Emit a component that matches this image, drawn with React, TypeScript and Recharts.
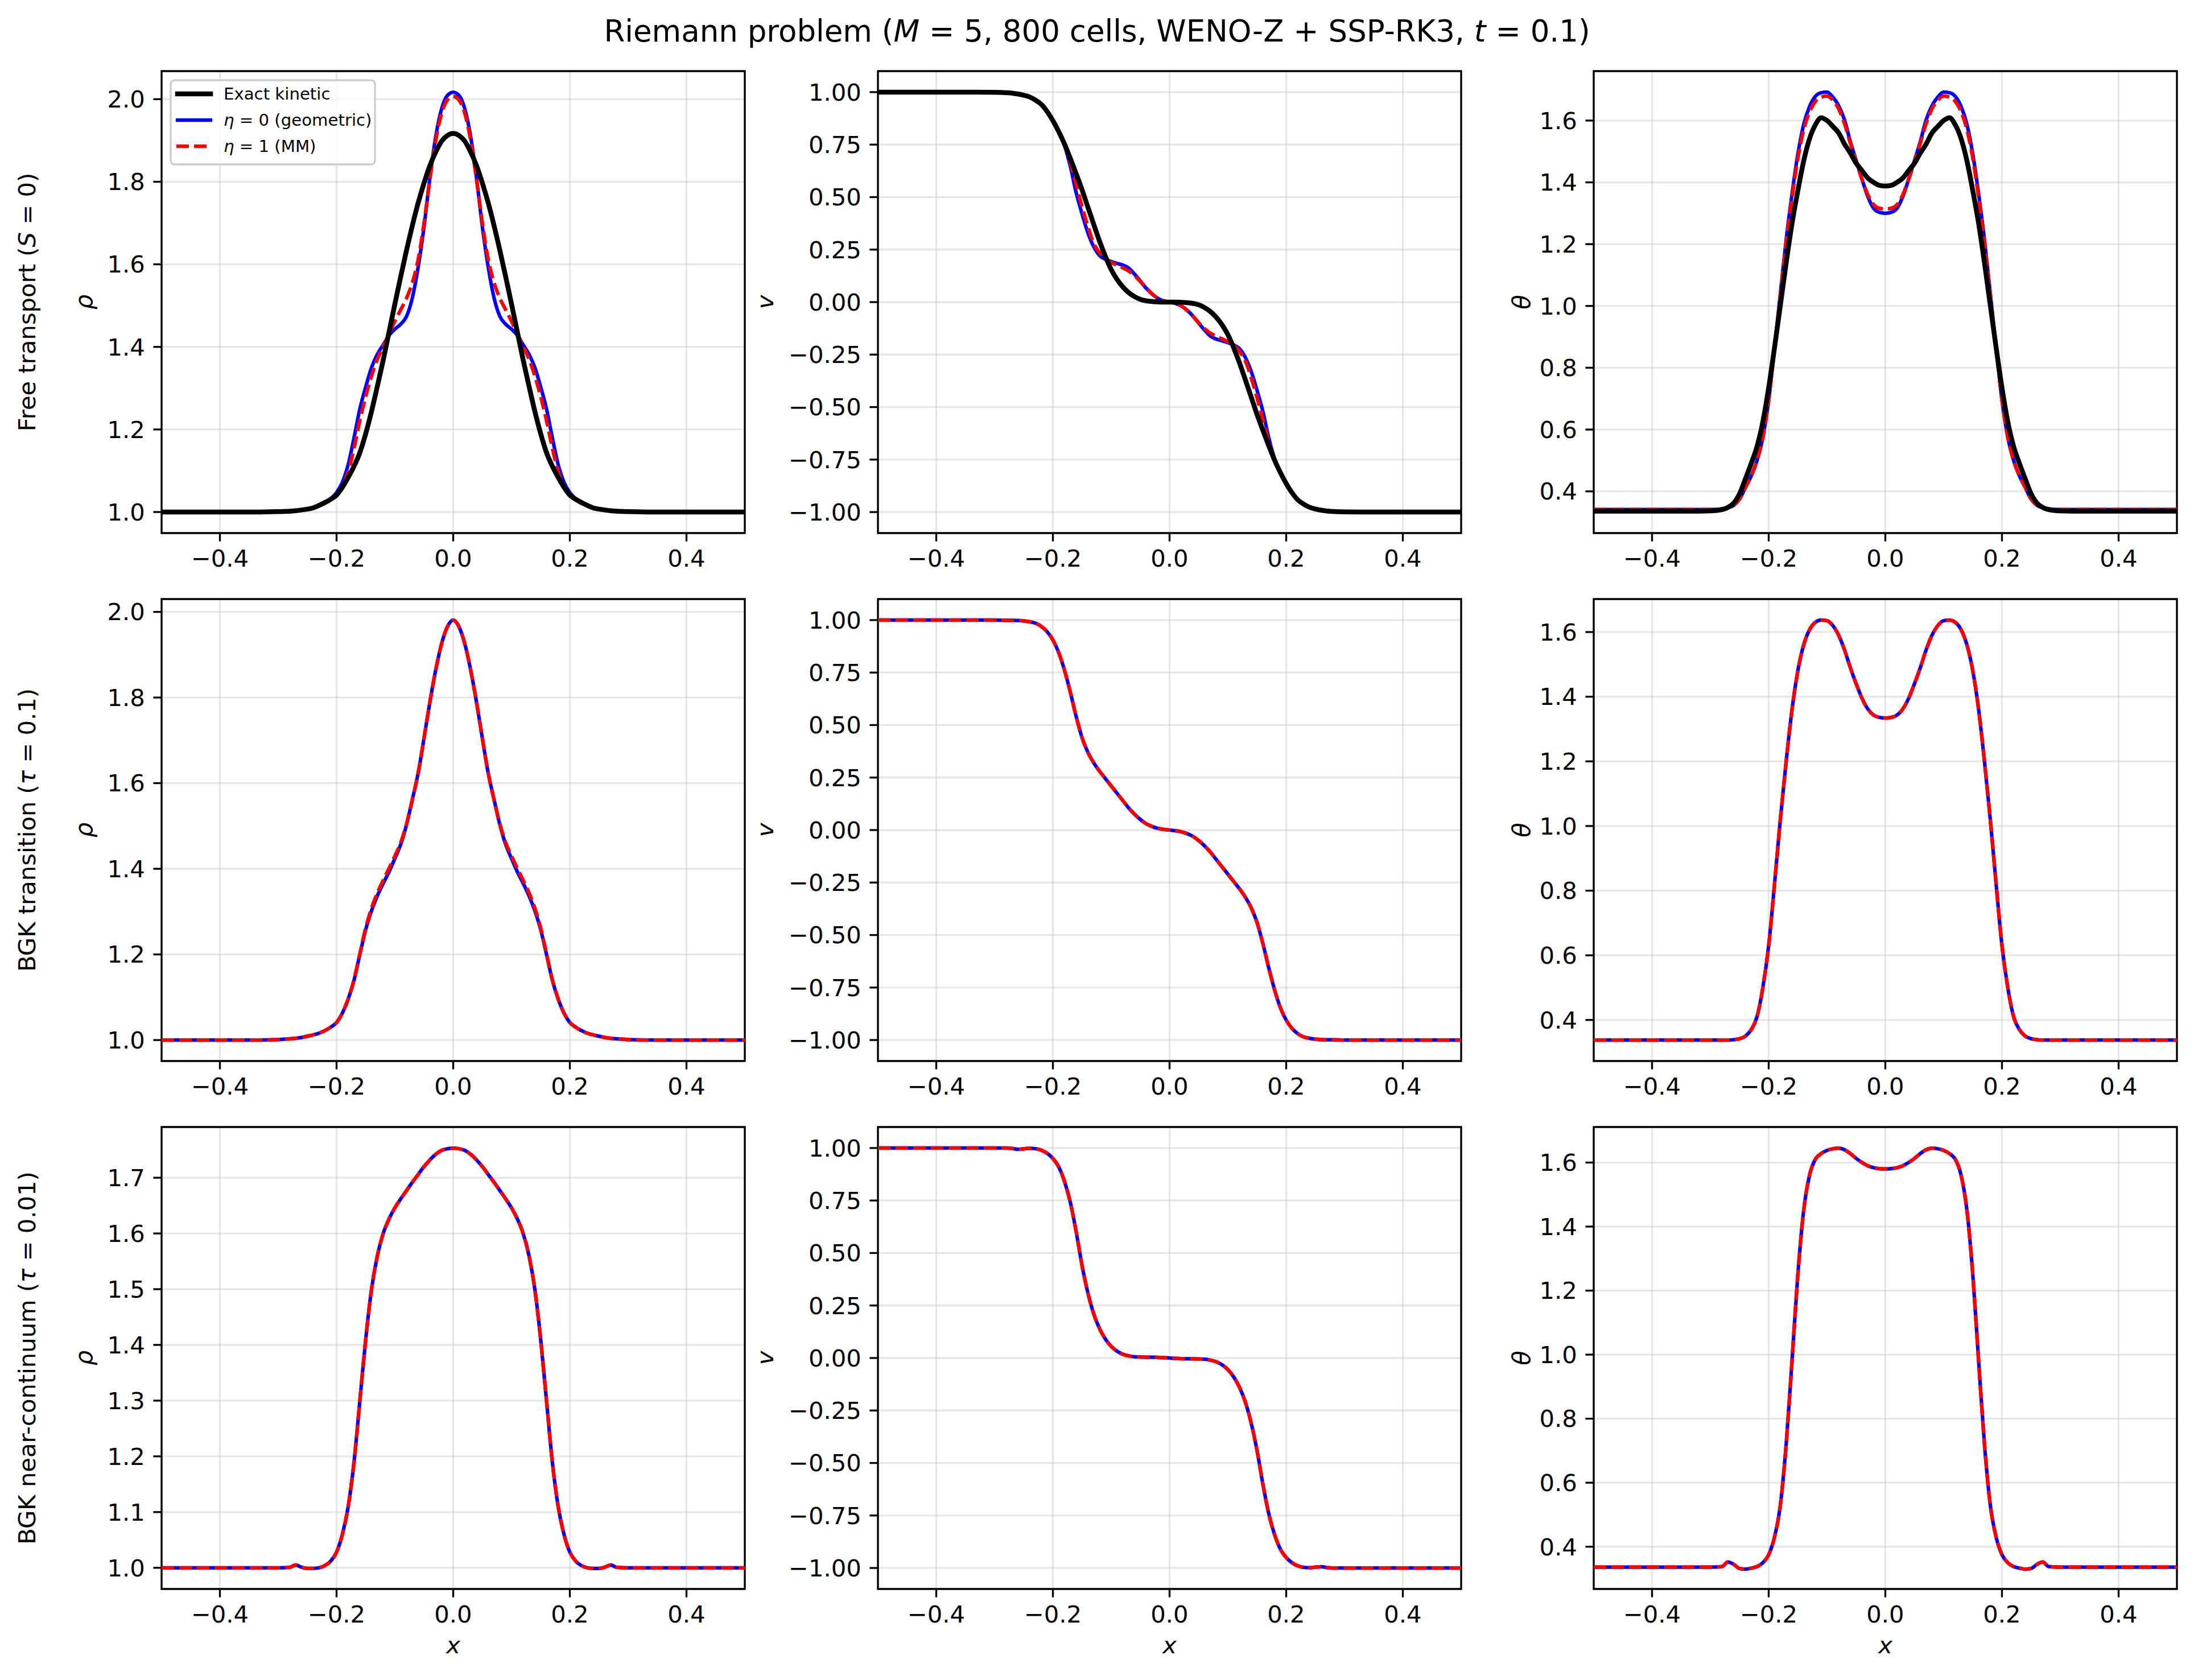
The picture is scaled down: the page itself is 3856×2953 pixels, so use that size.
import { LineChart, Line, XAxis, YAxis, CartesianGrid, ReferenceArea } from 'recharts';

// shared sample positions along x (denser through the fronts)
const X = [
  -0.5, -0.4, -0.34, -0.3, -0.28, -0.27, -0.26, -0.25, -0.24, -0.23, -0.22, -0.21, -0.2, -0.19, -0.18, -0.17,
  -0.16, -0.15, -0.14, -0.13, -0.12, -0.11, -0.1, -0.09, -0.08, -0.07, -0.06, -0.05, -0.04, -0.03, -0.02, -0.01,
  0,
  0.01, 0.02, 0.03, 0.04, 0.05, 0.06, 0.07, 0.08, 0.09, 0.1, 0.11, 0.12, 0.13, 0.14, 0.15, 0.16,
  0.17, 0.18, 0.19, 0.2, 0.21, 0.22, 0.23, 0.24, 0.25, 0.26, 0.27, 0.28, 0.3, 0.34, 0.4, 0.5,
];

// --- free transport (S = 0) ---
const rhoFreeExact = [
  1.000, 1.000, 1.000, 1.001, 1.002, 1.003, 1.005, 1.007, 1.010, 1.016, 1.023, 1.031, 1.041, 1.060, 1.084, 1.111,
  1.144, 1.190, 1.244, 1.305, 1.368, 1.436, 1.504, 1.570, 1.634, 1.694, 1.749, 1.797, 1.839, 1.872, 1.898, 1.912,
  1.917,
  1.912, 1.898, 1.872, 1.839, 1.797, 1.749, 1.694, 1.634, 1.570, 1.504, 1.436, 1.368, 1.305, 1.244, 1.190, 1.144,
  1.111, 1.084, 1.060, 1.041, 1.031, 1.023, 1.016, 1.010, 1.007, 1.005, 1.003, 1.002, 1.001, 1.000, 1.000, 1.000,
];
const rhoFreeEta0 = [
  1.000, 1.000, 1.000, 1.001, 1.002, 1.003, 1.005, 1.007, 1.010, 1.015, 1.022, 1.032, 1.047, 1.072, 1.115, 1.180,
  1.250, 1.303, 1.350, 1.382, 1.405, 1.428, 1.443, 1.455, 1.474, 1.519, 1.594, 1.691, 1.809, 1.909, 1.976, 2.009,
  2.017,
  2.009, 1.976, 1.909, 1.809, 1.691, 1.594, 1.519, 1.474, 1.455, 1.443, 1.428, 1.405, 1.382, 1.350, 1.303, 1.250,
  1.180, 1.115, 1.072, 1.047, 1.032, 1.022, 1.015, 1.010, 1.007, 1.005, 1.003, 1.002, 1.001, 1.000, 1.000, 1.000,
];
const rhoFreeEta1 = [
  1.000, 1.000, 1.000, 1.001, 1.002, 1.003, 1.005, 1.007, 1.010, 1.015, 1.021, 1.029, 1.040, 1.062, 1.098, 1.155,
  1.222, 1.280, 1.330, 1.370, 1.401, 1.432, 1.462, 1.490, 1.518, 1.556, 1.612, 1.700, 1.805, 1.900, 1.965, 1.998,
  2.007,
  1.998, 1.965, 1.900, 1.805, 1.700, 1.612, 1.556, 1.518, 1.490, 1.462, 1.432, 1.401, 1.370, 1.330, 1.280, 1.222,
  1.155, 1.098, 1.062, 1.040, 1.029, 1.021, 1.015, 1.010, 1.007, 1.005, 1.003, 1.002, 1.001, 1.000, 1.000, 1.000,
];
const vFreeExact = [
  1.000, 1.000, 1.000, 0.999, 0.997, 0.995, 0.991, 0.985, 0.977, 0.962, 0.942, 0.908, 0.864, 0.812, 0.752, 0.683,
  0.610, 0.535, 0.452, 0.370, 0.290, 0.218, 0.155, 0.108, 0.072, 0.045, 0.026, 0.013, 0.006, 0.003, 0.001, 0.000,
  0.000,
  0.000, -0.001, -0.003, -0.006, -0.013, -0.026, -0.045, -0.072, -0.108, -0.155, -0.218, -0.290, -0.370, -0.452, -0.535, -0.610,
  -0.683, -0.752, -0.812, -0.864, -0.908, -0.942, -0.962, -0.977, -0.985, -0.991, -0.995, -0.997, -0.999, -1.000, -1.000, -1.000,
];
const vFreeEta0 = [
  1.000, 1.000, 1.000, 0.999, 0.997, 0.995, 0.991, 0.985, 0.977, 0.962, 0.942, 0.908, 0.864, 0.815, 0.745, 0.645,
  0.520, 0.420, 0.330, 0.264, 0.222, 0.204, 0.193, 0.184, 0.176, 0.162, 0.133, 0.100, 0.066, 0.038, 0.018, 0.006,
  0.000,
  -0.006, -0.018, -0.038, -0.066, -0.100, -0.133, -0.162, -0.176, -0.184, -0.193, -0.204, -0.222, -0.264, -0.330, -0.420, -0.520,
  -0.645, -0.745, -0.815, -0.864, -0.908, -0.942, -0.962, -0.977, -0.985, -0.991, -0.995, -0.997, -0.999, -1.000, -1.000, -1.000,
];
const vFreeEta1 = [
  1.000, 1.000, 1.000, 0.999, 0.997, 0.995, 0.991, 0.985, 0.977, 0.962, 0.942, 0.908, 0.864, 0.815, 0.750, 0.665,
  0.560, 0.455, 0.360, 0.280, 0.235, 0.205, 0.188, 0.175, 0.163, 0.148, 0.126, 0.098, 0.068, 0.040, 0.018, 0.006,
  0.000,
  -0.006, -0.018, -0.040, -0.068, -0.098, -0.126, -0.148, -0.163, -0.175, -0.188, -0.205, -0.235, -0.280, -0.360, -0.455, -0.560,
  -0.665, -0.750, -0.815, -0.864, -0.908, -0.942, -0.962, -0.977, -0.985, -0.991, -0.995, -0.997, -0.999, -1.000, -1.000, -1.000,
];
const thetaFreeExact = [
  0.336, 0.336, 0.336, 0.337, 0.341, 0.348, 0.362, 0.392, 0.440, 0.490, 0.545, 0.625, 0.735, 0.865, 1.002, 1.140,
  1.267, 1.373, 1.469, 1.541, 1.586, 1.609, 1.600, 1.581, 1.560, 1.524, 1.495, 1.462, 1.438, 1.414, 1.400, 1.390,
  1.388,
  1.390, 1.400, 1.414, 1.438, 1.462, 1.495, 1.524, 1.560, 1.581, 1.600, 1.609, 1.586, 1.541, 1.469, 1.373, 1.267,
  1.140, 1.002, 0.865, 0.735, 0.625, 0.545, 0.490, 0.440, 0.392, 0.362, 0.348, 0.341, 0.337, 0.336, 0.336, 0.336,
];
const thetaFreeEta0 = [
  0.341, 0.341, 0.341, 0.341, 0.343, 0.347, 0.355, 0.375, 0.412, 0.450, 0.500, 0.575, 0.695, 0.865, 1.040, 1.215,
  1.362, 1.491, 1.587, 1.645, 1.678, 1.690, 1.692, 1.676, 1.648, 1.602, 1.532, 1.471, 1.410, 1.354, 1.316, 1.303,
  1.300,
  1.303, 1.316, 1.354, 1.410, 1.471, 1.532, 1.602, 1.648, 1.676, 1.692, 1.690, 1.678, 1.645, 1.587, 1.491, 1.362,
  1.215, 1.040, 0.865, 0.695, 0.575, 0.500, 0.450, 0.412, 0.375, 0.355, 0.347, 0.343, 0.341, 0.341, 0.341, 0.341,
];
const thetaFreeEta1 = [
  0.341, 0.341, 0.341, 0.341, 0.343, 0.347, 0.355, 0.375, 0.412, 0.450, 0.500, 0.575, 0.695, 0.862, 1.035, 1.205,
  1.350, 1.478, 1.570, 1.628, 1.662, 1.676, 1.679, 1.666, 1.638, 1.590, 1.527, 1.466, 1.410, 1.360, 1.328, 1.316,
  1.314,
  1.316, 1.328, 1.360, 1.410, 1.466, 1.527, 1.590, 1.638, 1.666, 1.679, 1.676, 1.662, 1.628, 1.570, 1.478, 1.350,
  1.205, 1.035, 0.862, 0.695, 0.575, 0.500, 0.450, 0.412, 0.375, 0.355, 0.347, 0.343, 0.341, 0.341, 0.341, 0.341,
];

// --- BGK transition (tau = 0.1) ---
const rhoBgkEta0 = [
  1.000, 1.000, 1.000, 1.001, 1.003, 1.004, 1.006, 1.009, 1.012, 1.016, 1.022, 1.030, 1.041, 1.063, 1.096, 1.140,
  1.200, 1.258, 1.302, 1.337, 1.366, 1.393, 1.424, 1.457, 1.503, 1.562, 1.624, 1.705, 1.789, 1.864, 1.925, 1.965,
  1.981,
  1.965, 1.925, 1.864, 1.789, 1.705, 1.624, 1.562, 1.503, 1.457, 1.424, 1.393, 1.366, 1.337, 1.302, 1.258, 1.200,
  1.140, 1.096, 1.063, 1.041, 1.030, 1.022, 1.016, 1.012, 1.009, 1.006, 1.004, 1.003, 1.001, 1.000, 1.000, 1.000,
];
const rhoBgkEta1 = [
  1.000, 1.000, 1.000, 1.001, 1.003, 1.004, 1.006, 1.009, 1.012, 1.016, 1.022, 1.030, 1.041, 1.063, 1.096, 1.141,
  1.202, 1.262, 1.308, 1.344, 1.373, 1.401, 1.430, 1.461, 1.505, 1.562, 1.624, 1.705, 1.789, 1.864, 1.925, 1.965,
  1.981,
  1.965, 1.925, 1.864, 1.789, 1.705, 1.624, 1.562, 1.505, 1.461, 1.430, 1.401, 1.373, 1.344, 1.308, 1.262, 1.202,
  1.141, 1.096, 1.063, 1.041, 1.030, 1.022, 1.016, 1.012, 1.009, 1.006, 1.004, 1.003, 1.001, 1.000, 1.000, 1.000,
];
const vBgk = [
  1.000, 1.000, 1.000, 1.000, 0.999, 0.999, 0.998, 0.996, 0.992, 0.985, 0.970, 0.945, 0.905, 0.845, 0.760, 0.655,
  0.540, 0.440, 0.370, 0.320, 0.280, 0.245, 0.210, 0.175, 0.140, 0.105, 0.075, 0.050, 0.030, 0.017, 0.008, 0.003,
  0.000,
  -0.003, -0.008, -0.017, -0.030, -0.050, -0.075, -0.105, -0.140, -0.175, -0.210, -0.245, -0.280, -0.320, -0.370, -0.440, -0.540,
  -0.655, -0.760, -0.845, -0.905, -0.945, -0.970, -0.985, -0.992, -0.996, -0.998, -0.999, -0.999, -1.000, -1.000, -1.000, -1.000,
];
const thetaBgk = [
  0.338, 0.338, 0.338, 0.338, 0.338, 0.338, 0.339, 0.342, 0.350, 0.370, 0.410, 0.500, 0.630, 0.820, 1.020, 1.200,
  1.360, 1.480, 1.560, 1.607, 1.630, 1.637, 1.635, 1.620, 1.590, 1.545, 1.490, 1.440, 1.395, 1.362, 1.343, 1.336,
  1.334,
  1.336, 1.343, 1.362, 1.395, 1.440, 1.490, 1.545, 1.590, 1.620, 1.635, 1.637, 1.630, 1.607, 1.560, 1.480, 1.360,
  1.200, 1.020, 0.820, 0.630, 0.500, 0.410, 0.370, 0.350, 0.342, 0.339, 0.338, 0.338, 0.338, 0.338, 0.338, 0.338,
];

// --- BGK near-continuum (tau = 0.01) ---
const rhoCont = [
  1.000, 1.000, 1.000, 1.000, 1.001, 1.005, 1.001, 0.999, 0.999, 1.000, 1.004, 1.012, 1.028, 1.060, 1.110, 1.190,
  1.300, 1.410, 1.500, 1.560, 1.600, 1.626, 1.646, 1.662, 1.677, 1.692, 1.706, 1.720, 1.732, 1.742, 1.749, 1.752,
  1.753,
  1.752, 1.749, 1.742, 1.732, 1.720, 1.706, 1.692, 1.677, 1.662, 1.646, 1.626, 1.600, 1.560, 1.500, 1.410, 1.300,
  1.190, 1.110, 1.060, 1.028, 1.012, 1.004, 1.000, 0.999, 0.999, 1.001, 1.005, 1.001, 1.000, 1.000, 1.000, 1.000,
];
const vCont = [
  1.000, 1.000, 1.000, 1.000, 1.000, 0.998, 0.994, 0.996, 0.999, 0.997, 0.990, 0.975, 0.950, 0.910, 0.840, 0.740,
  0.600, 0.440, 0.310, 0.210, 0.140, 0.090, 0.055, 0.032, 0.018, 0.010, 0.006, 0.005, 0.004, 0.004, 0.003, 0.002,
  0.000,
  -0.002, -0.003, -0.004, -0.004, -0.005, -0.006, -0.010, -0.018, -0.032, -0.055, -0.090, -0.140, -0.210, -0.310, -0.440, -0.600,
  -0.740, -0.840, -0.910, -0.950, -0.975, -0.990, -0.997, -0.999, -0.996, -0.994, -0.998, -1.000, -1.000, -1.000, -1.000, -1.000,
];
const thetaCont = [
  0.336, 0.336, 0.336, 0.336, 0.338, 0.352, 0.345, 0.332, 0.330, 0.333, 0.338, 0.350, 0.375, 0.430, 0.530, 0.720,
  0.980, 1.250, 1.450, 1.560, 1.610, 1.628, 1.638, 1.643, 1.645, 1.640, 1.628, 1.613, 1.600, 1.590, 1.584, 1.581,
  1.580,
  1.581, 1.584, 1.590, 1.600, 1.613, 1.628, 1.640, 1.645, 1.643, 1.638, 1.628, 1.610, 1.560, 1.450, 1.250, 0.980,
  0.720, 0.530, 0.430, 0.375, 0.350, 0.338, 0.333, 0.330, 0.332, 0.345, 0.352, 0.338, 0.336, 0.336, 0.336, 0.336,
];

const X_TICKS = [-0.4, -0.2, 0, 0.2, 0.4];
const RHO_TICKS = [1.0, 1.2, 1.4, 1.6, 1.8, 2.0];
const RHO_TICKS_FINE = [1.0, 1.1, 1.2, 1.3, 1.4, 1.5, 1.6, 1.7];
const V_TICKS = [-1.0, -0.75, -0.5, -0.25, 0, 0.25, 0.5, 0.75, 1.0];
const THETA_TICKS = [0.4, 0.6, 0.8, 1.0, 1.2, 1.4, 1.6];

const ROW_LABELS = [
  ['Free transport (', 'S', ' = 0)'],
  ['BGK transition (', 'τ', ' = 0.1)'],
  ['BGK near-continuum (', 'τ', ' = 0.01)'],
];
const COL_SYMBOLS = ['ρ', 'v', 'θ'];

// layout in px (300 dpi figure)
const FIG_W = 3856;
const FIG_H = 2953;
const AX_LEFT = [284, 1543, 2801];
const AX_TOP = [125, 1053, 1981];
const AX_W = 1025;
const AX_H = 812;
const Y_W = 220;
const X_H = 110;
const PAD = 12;
const FONT = '"DejaVu Sans", sans-serif';
const TICK_PX = 41.7;
const LW = 3.33; // 0.8 pt

const fmt = (d: number) => (v: number) => (v < -1e-9 ? '\u2212' : '') + Math.abs(v).toFixed(d);

type PanelSpec = {
  row: number;
  col: number;
  domain: [number, number];
  ticks: number[];
  digits: number;
  exact?: number[];
  eta0: number[];
  eta1: number[];
};

const panels: PanelSpec[] = [
  { row: 0, col: 0, domain: [0.949, 2.068], ticks: RHO_TICKS, digits: 1, exact: rhoFreeExact, eta0: rhoFreeEta0, eta1: rhoFreeEta1 },
  { row: 0, col: 1, domain: [-1.1, 1.1], ticks: V_TICKS, digits: 2, exact: vFreeExact, eta0: vFreeEta0, eta1: vFreeEta1 },
  { row: 0, col: 2, domain: [0.265, 1.76], ticks: THETA_TICKS, digits: 1, exact: thetaFreeExact, eta0: thetaFreeEta0, eta1: thetaFreeEta1 },
  { row: 1, col: 0, domain: [0.951, 2.03], ticks: RHO_TICKS, digits: 1, eta0: rhoBgkEta0, eta1: rhoBgkEta1 },
  { row: 1, col: 1, domain: [-1.1, 1.1], ticks: V_TICKS, digits: 2, eta0: vBgk, eta1: vBgk },
  { row: 1, col: 2, domain: [0.273, 1.702], ticks: THETA_TICKS, digits: 1, eta0: thetaBgk, eta1: thetaBgk },
  { row: 2, col: 0, domain: [0.962, 1.791], ticks: RHO_TICKS_FINE, digits: 1, eta0: rhoCont, eta1: rhoCont },
  { row: 2, col: 1, domain: [-1.1, 1.1], ticks: V_TICKS, digits: 2, eta0: vCont, eta1: vCont },
  { row: 2, col: 2, domain: [0.268, 1.711], ticks: THETA_TICKS, digits: 1, eta0: thetaCont, eta1: thetaCont },
];

const tickStyle = { fontSize: TICK_PX, fill: '#000', fontFamily: FONT };
const tickLine = { stroke: '#000', strokeWidth: LW };

function Panel({ p }: { p: PanelSpec }) {
  const data = X.map((x, i) => ({ x, exact: p.exact ? p.exact[i] : undefined, eta0: p.eta0[i], eta1: p.eta1[i] }));
  return (
    <div style={{ position: 'absolute', left: AX_LEFT[p.col] - Y_W, top: AX_TOP[p.row] - PAD }}>
      <LineChart
        width={Y_W + AX_W + PAD}
        height={PAD + AX_H + X_H}
        data={data}
        margin={{ top: PAD, right: PAD, bottom: 0, left: 0 }}
      >
        <CartesianGrid stroke="#b0b0b0" strokeOpacity={0.3} strokeWidth={LW} />
        <XAxis
          dataKey="x"
          type="number"
          domain={[-0.5, 0.5]}
          ticks={X_TICKS}
          allowDataOverflow
          tickFormatter={fmt(1)}
          tick={tickStyle}
          tickLine={tickLine}
          tickSize={14.6}
          tickMargin={14.6}
          axisLine={false}
          height={X_H}
          interval={0}
        />
        <YAxis
          type="number"
          domain={p.domain}
          ticks={p.ticks}
          allowDataOverflow
          tickFormatter={fmt(p.digits)}
          tick={tickStyle}
          tickLine={tickLine}
          tickSize={14.6}
          tickMargin={14.6}
          axisLine={false}
          width={Y_W}
          interval={0}
        />
        <Line type="monotone" dataKey="eta0" stroke="#0000ff" strokeWidth={6.25} dot={false} activeDot={false} isAnimationActive={false} />
        <Line type="monotone" dataKey="eta1" stroke="#ff0000" strokeWidth={6.25} strokeDasharray="22 9" dot={false} activeDot={false} isAnimationActive={false} />
        {p.exact && (
          <Line type="monotone" dataKey="exact" stroke="#000000" strokeWidth={8.5} dot={false} activeDot={false} isAnimationActive={false} />
        )}
        <ReferenceArea x1={-0.5} x2={0.5} y1={p.domain[0]} y2={p.domain[1]} fill="none" fillOpacity={0} stroke="#000" strokeWidth={LW} ifOverflow="visible" />
      </LineChart>
    </div>
  );
}

const YLABEL_OFFSET = [122, 184, 112];

export default function App() {
  return (
    <div style={{ position: 'absolute', left: 0, top: 0, width: FIG_W, height: FIG_H, background: '#fff', overflow: 'hidden' }}>
      {panels.map((p) => (
        <Panel key={`${p.row}-${p.col}`} p={p} />
      ))}
      <svg width={FIG_W} height={FIG_H} style={{ position: 'absolute', left: 0, top: 0, pointerEvents: 'none' }} fontFamily={FONT}>
        <text x={FIG_W / 2} y={73} textAnchor="middle" fontSize={53} fill="#000">
          Riemann problem (<tspan fontStyle="italic">M</tspan> = 5, 800 cells, WENO-Z + SSP-RK3, <tspan fontStyle="italic">t</tspan> = 0.1)
        </text>

        {ROW_LABELS.map((lab, r) => (
          <text key={r} transform={`translate(62, ${AX_TOP[r] + AX_H / 2}) rotate(-90)`} textAnchor="middle" fontSize={TICK_PX} fill="#000">
            {lab[0]}
            <tspan fontStyle="italic">{lab[1]}</tspan>
            {lab[2]}
          </text>
        ))}

        {AX_TOP.map((top, r) =>
          COL_SYMBOLS.map((s, c) => (
            <text
              key={`${r}-${c}`}
              transform={`translate(${AX_LEFT[c] - YLABEL_OFFSET[c]}, ${top + AX_H / 2}) rotate(-90)`}
              textAnchor="middle"
              fontSize={TICK_PX}
              fontStyle="italic"
              fill="#000"
            >
              {s}
            </text>
          ))
        )}

        {AX_LEFT.map((left, c) => (
          <text key={c} x={left + AX_W / 2} y={2906} textAnchor="middle" fontSize={TICK_PX} fontStyle="italic" fill="#000">
            x
          </text>
        ))}

        {/* legend of the first panel */}
        <g>
          <rect x={300} y={141} width={359} height={148} rx={7} fill="#fff" fillOpacity={0.8} stroke="#cccccc" strokeWidth={LW} />
          <line x1={312} x2={370} y1={165} y2={165} stroke="#000" strokeWidth={8.5} strokeLinecap="square" />
          <line x1={312} x2={370} y1={211} y2={211} stroke="#0000ff" strokeWidth={6.25} strokeLinecap="square" />
          <line x1={310} x2={372} y1={257} y2={257} stroke="#ff0000" strokeWidth={6.25} strokeDasharray="22 9" />
          <text x={393} y={175} fontSize={29.2} fill="#000">Exact kinetic</text>
          <text x={393} y={221} fontSize={29.2} fill="#000">
            <tspan fontStyle="italic">η</tspan> = 0 (geometric)
          </text>
          <text x={393} y={267} fontSize={29.2} fill="#000">
            <tspan fontStyle="italic">η</tspan> = 1 (MM)
          </text>
        </g>
      </svg>
    </div>
  );
}
